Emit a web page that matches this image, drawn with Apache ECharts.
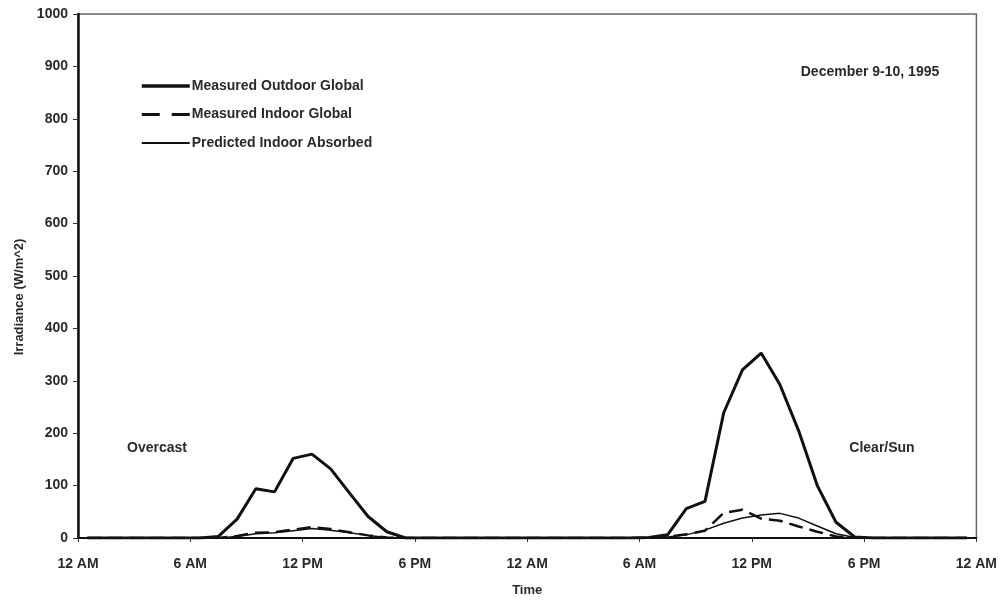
<!DOCTYPE html>
<html>
<head>
<meta charset="utf-8">
<script src="https://cdn.jsdelivr.net/npm/echarts@6/dist/echarts.min.js"></script>
<style>
  html, body { margin: 0; padding: 0; background: #fff; }
  #chart { width: 1000px; height: 602px; }
</style>
</head>
<body>
<div id="chart"></div>
<script>
// hour of the day (midpoint of each hourly average), Dec 9 00:00 = 0
var hours = [0.5, 1.5, 2.5, 3.5, 4.5, 5.5, 6.5, 7.5, 8.5, 9.5, 10.5, 11.5,
    12.5, 13.5, 14.5, 15.5, 16.5, 17.5, 18.5, 19.5, 20.5, 21.5, 22.5, 23.5,
    24.5, 25.5, 26.5, 27.5, 28.5, 29.5, 30.5, 31.5, 32.5, 33.5, 34.5, 35.5,
    36.5, 37.5, 38.5, 39.5, 40.5, 41.5, 42.5, 43.5, 44.5, 45.5, 46.5, 47.5];

var outdoorGlobal = [0, 0, 0, 0, 0, 0, 0, 3, 36, 94, 88, 152,
    160, 132, 86, 41, 12, 0, 0, 0, 0, 0, 0, 0,
    0, 0, 0, 0, 0, 0, 1, 6, 56, 70, 239, 321,
    353, 293, 205, 100, 30, 2, 0, 0, 0, 0, 0, 0];

var indoorGlobal = [0, 0, 0, 0, 0, 0, 0, 0, 4, 10, 11, 16,
    21, 17, 11, 5, 1, 0, 0, 0, 0, 0, 0, 0,
    0, 0, 0, 0, 0, 0, 0, 2, 7, 14, 48, 54,
    37, 33, 22, 12, 3, 0, 0, 0, 0, 0, 0, 0];

var indoorAbsorbed = [0, 0, 0, 0, 0, 0, 0, 0, 3, 8, 10, 14,
    18, 15, 10, 5, 1, 0, 0, 0, 0, 0, 0, 0,
    0, 0, 0, 0, 0, 0, 0, 2, 6, 15, 28, 38,
    44, 47, 38, 23, 8, 1, 0, 0, 0, 0, 0, 0];

var tickLabels = ['12 AM', '6 AM', '12 PM', '6 PM', '12 AM', '6 AM', '12 PM', '6 PM', '12 AM'];
var seriesNames = ['Measured Outdoor Global', 'Measured Indoor Global', 'Predicted Indoor Absorbed'];

var pairs = function(vals) {
    var out = [];
    for (var i = 0; i < hours.length; i++) {
        out.push([hours[i], vals[i]]);
    }
    return out;
};

var font = '"Liberation Sans", Arial, sans-serif';
var txt = '#2a2a2a';
var chart = echarts.init(document.getElementById('chart'));
var option = {
    backgroundColor: '#fff',
    animation: false,
    grid: {
        left: 78, right: 22, top: 14, bottom: 56,
        show: true,
        borderColor: '#666',
        borderWidth: 1.5
    },
    legend: {
        orient: 'vertical',
        left: 135,
        top: 74,
        itemWidth: 48,
        itemHeight: 14,
        itemGap: 14.5,
        data: [
            { name: seriesNames[0], lineStyle: { width: 3.5 } },
            { name: seriesNames[1], lineStyle: { width: 3, type: [18, 12] } },
            { name: seriesNames[2], lineStyle: { width: 2 } }
        ],
        itemStyle: { color: 'rgba(0,0,0,0)', borderWidth: 0 },
        textStyle: { fontFamily: font, fontSize: 14, fontWeight: 'bold', color: txt, padding: [0, 0, 0, -3] }
    },
    xAxis: {
        type: 'value',
        min: 0,
        max: 48,
        interval: 6,
        name: 'Time',
        nameLocation: 'middle',
        nameGap: 46,
        nameTextStyle: { fontFamily: font, fontSize: 13, fontWeight: 'bold', color: txt },
        axisLine: { lineStyle: { color: '#111', width: 2 } },
        axisTick: { length: 4, lineStyle: { color: '#333' } },
        splitLine: { show: false },
        axisLabel: {
            margin: 19,
            fontFamily: font, fontSize: 14, fontWeight: 'bold', color: txt,
            formatter: function(v) { return tickLabels[v / 6]; }
        }
    },
    yAxis: {
        type: 'value',
        min: 0,
        max: 1000,
        interval: 100,
        axisLine: { show: true, lineStyle: { color: '#111', width: 2.5 } },
        axisTick: { show: true, length: 5, lineStyle: { color: '#333' } },
        splitLine: { show: false },
        axisLabel: {
            margin: 10,
            fontFamily: font, fontSize: 14, fontWeight: 'bold', color: txt,
            formatter: function(v) { return String(v); }
        }
    },
    graphic: [
        {
            type: 'text', x: 19, y: 297, rotation: Math.PI / 2,
            style: {
                text: 'Irradiance (W/m^2)', fontFamily: font, fontSize: 13, fontWeight: 'bold',
                fill: txt, align: 'center', verticalAlign: 'middle'
            }
        },
        {
            type: 'text', x: 870, y: 72,
            style: { text: 'December 9-10, 1995', fontFamily: font, fontSize: 14, fontWeight: 'bold',
                fill: txt, align: 'center', verticalAlign: 'middle' }
        },
        {
            type: 'text', x: 157, y: 448,
            style: { text: 'Overcast', fontFamily: font, fontSize: 14, fontWeight: 'bold',
                fill: txt, align: 'center', verticalAlign: 'middle' }
        },
        {
            type: 'text', x: 882, y: 448,
            style: { text: 'Clear/Sun', fontFamily: font, fontSize: 14, fontWeight: 'bold',
                fill: txt, align: 'center', verticalAlign: 'middle' }
        }
    ],
    series: [{
        name: seriesNames[0],
        type: 'line',
        symbol: 'none',
        data: pairs(outdoorGlobal),
        lineStyle: { color: '#111', width: 3 },
        itemStyle: { color: '#111' },
        z: 3
    }, {
        name: seriesNames[1],
        type: 'line',
        symbol: 'none',
        data: pairs(indoorGlobal),
        lineStyle: { color: '#111', width: 2.5, type: [14, 7] },
        itemStyle: { color: '#111' },
        z: 2
    }, {
        name: seriesNames[2],
        type: 'line',
        symbol: 'none',
        data: pairs(indoorAbsorbed),
        lineStyle: { color: '#111', width: 1.5 },
        itemStyle: { color: '#111' },
        z: 2
    }]
};
chart.setOption(option);
</script>
</body>
</html>
